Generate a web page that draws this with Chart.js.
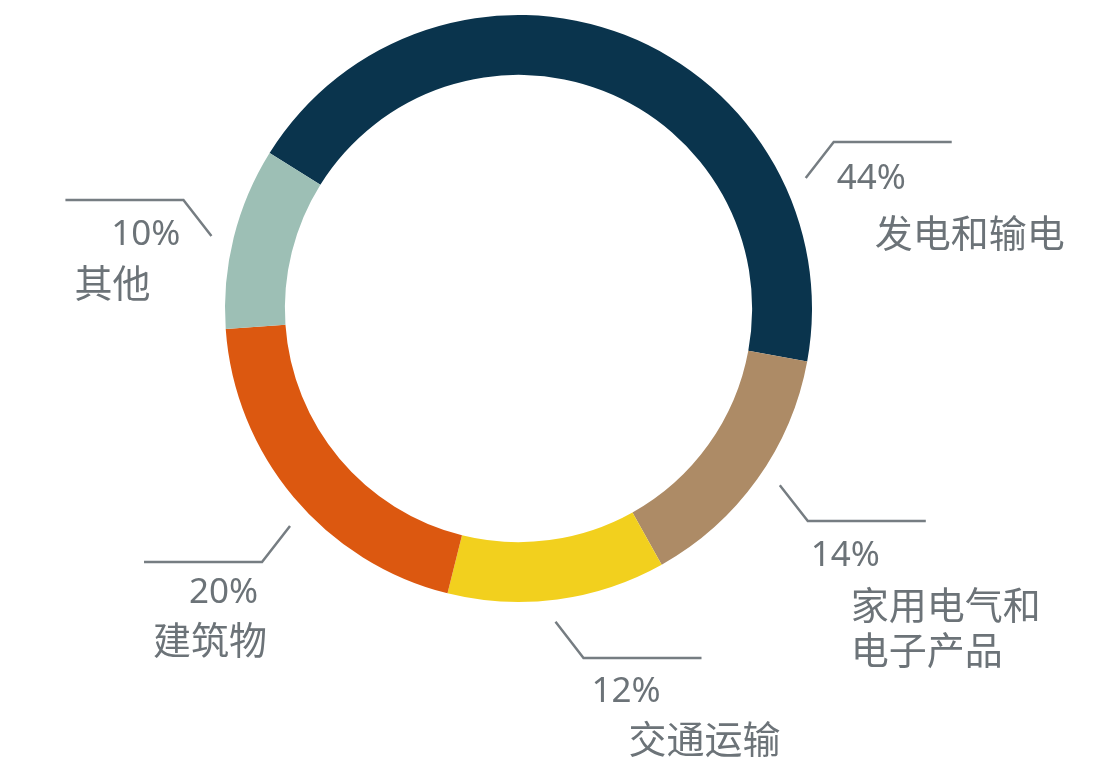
<!DOCTYPE html>
<html lang="zh">
<head>
<meta charset="UTF-8">
<title>排放来源构成</title>
<style>
    body { margin: 0; background: #fff; }
    #chart { display: block; }
</style>
</head>
<body>
<canvas id="chart" width="1120" height="784"></canvas>
<script src="https://cdn.jsdelivr.net/npm/chart.js"></script>
<script>
// data
var categories = ['发电和输电', ['家用电气和', '电子产品'], '交通运输', '建筑物', '其他'];
var shares = [44, 14, 12, 20, 10];
var colors = ['#0a344d', '#ad8b66', '#f2d01e', '#dc5810', '#9dbfb5'];

// where each callout sits: fraction along the arc, side, and text offsets from the elbow
var calloutLayout = [
    { frac: 0.78, side: 1,  up: true,  pctDx: 3,  pctDy: 47, nameDx: 41,  nameAlign: 'left',  nameDy: 91 },
    { frac: 0.47, side: 1,  up: false, pctDx: 3,  pctDy: 45, nameDx: 43,  nameAlign: 'left',  nameDy: 84 },
    { frac: 0.52, side: 1,  up: false, pctDx: 8,  pctDy: 44, nameDx: 45,  nameAlign: 'left',  nameDy: 81 },
    { frac: 0.45, side: -1, up: false, pctDx: -4, pctDy: 41, nameDx: 5,   nameAlign: 'right', nameDy: 78 },
    { frac: 0.48, side: -1, up: true,  pctDx: -3, pctDy: 45, nameDx: -33, nameAlign: 'right', nameDy: 83 }
];

var textColor = '#6c7378';
var lineColor = '#767d82';

// leader lines + labels
var calloutPlugin = {
    id: 'callouts',
    afterDraw: function(chart) {
        var ctx = chart.ctx;
        var meta = chart.getDatasetMeta(0);
        ctx.save();
        meta.data.forEach(function(arc, i) {
            var lay = calloutLayout[i];
            var p = arc.getProps(['x', 'y', 'startAngle', 'endAngle', 'outerRadius'], true);
            var a = p.startAngle + (p.endAngle - p.startAngle) * lay.frac;
            var r = p.outerRadius * 1.075;
            var sx = p.x + Math.cos(a) * r;
            var sy = p.y + Math.sin(a) * r;
            var ex = sx + lay.side * 28;
            var ey = Math.round(sy + (lay.up ? -36 : 36));
            var hx = ex + lay.side * 118;

            ctx.strokeStyle = lineColor;
            ctx.lineWidth = 2.5;
            ctx.lineJoin = 'miter';
            ctx.beginPath();
            ctx.moveTo(sx, sy);
            ctx.lineTo(ex, ey);
            ctx.lineTo(hx, ey);
            ctx.stroke();

            ctx.fillStyle = textColor;
            ctx.font = '35px "Noto Sans", "Noto Sans CJK SC", sans-serif';
            ctx.textBaseline = 'alphabetic';
            ctx.textAlign = lay.side > 0 ? 'left' : 'right';
            ctx.fillText(shares[i] + '%', ex + lay.pctDx, ey + lay.pctDy);

            ctx.font = '38px "Noto Sans CJK SC", sans-serif';
            ctx.textBaseline = 'middle';
            ctx.textAlign = lay.nameAlign;
            var lines = [].concat(categories[i]);
            lines.forEach(function(line, k) {
                ctx.fillText(line, ex + lay.nameDx, ey + lay.nameDy + k * 45);
            });
        });
        ctx.restore();
    }
};

new Chart(document.getElementById('chart'), {
    type: 'doughnut',
    data: {
        labels: categories,
        datasets: [{
            data: shares,
            backgroundColor: colors,
            borderWidth: 0
        }]
    },
    options: {
        responsive: false,
        animation: false,
        rotation: -58,
        cutout: '79.6%',
        layout: { padding: { left: 225, right: 308, top: 15, bottom: 182 } },
        plugins: {
            legend: { display: false },
            tooltip: { enabled: false }
        }
    },
    plugins: [calloutPlugin]
});
</script>
</body>
</html>
